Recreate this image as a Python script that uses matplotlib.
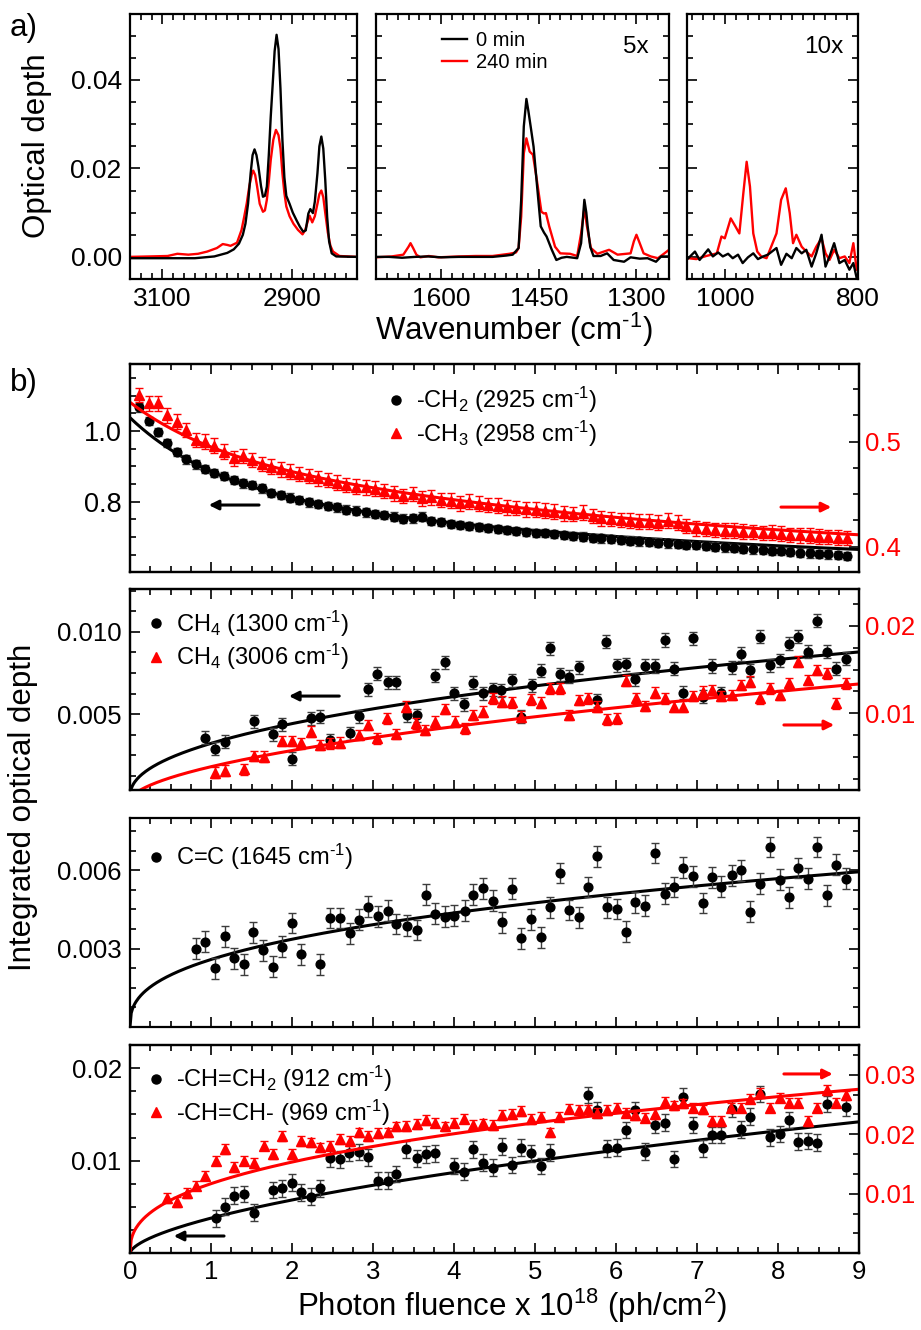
import numpy as np
import matplotlib
matplotlib.use("Agg")
import matplotlib.pyplot as plt
from matplotlib.ticker import FixedLocator, MultipleLocator, AutoMinorLocator, FormatStrFormatter
from matplotlib.lines import Line2D

plt.rcParams['font.family'] = ['Liberation Sans', 'DejaVu Sans']
plt.rcParams['mathtext.fontset'] = 'custom'
plt.rcParams['mathtext.rm'] = 'Liberation Sans'
plt.rcParams['mathtext.it'] = 'Liberation Sans:italic'
plt.rcParams['mathtext.bf'] = 'Liberation Sans:bold'
plt.rcParams['axes.unicode_minus'] = False

RED = '#ff0000'
HY = '\u2010'  # short hyphen used in the superscripts

# ---------------- panel a : spectra ----------------
# C-H stretch region (unscaled)
wn_ch_0 = [3150, 3100, 3050, 3020, 3000, 2990, 2982, 2976, 2972, 2968, 2964, 2961, 2958, 2955, 2952, 2948,
           2945, 2942, 2939, 2936, 2933, 2930, 2927, 2924, 2921, 2918, 2915, 2912, 2909, 2904, 2899, 2893,
           2888, 2883, 2879, 2875, 2872, 2868, 2865, 2861, 2858, 2855, 2852, 2849, 2846, 2843, 2839, 2832, 2800]
od_ch_0 = [-0.0003, -0.0003, -0.0003, 0.0001, 0.0009, 0.0017, 0.0030, 0.0050, 0.0075, 0.0120, 0.0189, 0.0230,
           0.0243, 0.0230, 0.0204, 0.0160, 0.0136, 0.0138, 0.0159, 0.0230, 0.0317, 0.0390, 0.0465, 0.0502,
           0.0470, 0.0380, 0.0264, 0.0180, 0.0138, 0.0120, 0.0100, 0.0082, 0.0068, 0.0057, 0.0060, 0.0098,
           0.0108, 0.0099, 0.0125, 0.0189, 0.0250, 0.0272, 0.0245, 0.0175, 0.0090, 0.0035, 0.0008, 0.0001, 0.0]
wn_ch_240 = [3150, 3120, 3092, 3077, 3060, 3045, 3031, 3016, 3007, 3000, 2995, 2985, 2978, 2974, 2970, 2966,
             2962, 2960, 2957, 2954, 2950, 2945, 2942, 2939, 2936, 2933, 2929, 2925, 2921, 2918, 2915, 2912,
             2909, 2904, 2898, 2891, 2884, 2880, 2876, 2873, 2869, 2865, 2861, 2858, 2855, 2852, 2849, 2845,
             2841, 2837, 2827, 2800]
od_ch_240 = [0.0, 0.0001, 0.0002, 0.0007, 0.0005, 0.0007, 0.0012, 0.0020, 0.0029, 0.0027, 0.0025, 0.0032,
             0.0061, 0.0090, 0.0121, 0.0160, 0.0188, 0.0195, 0.0185, 0.0159, 0.0120, 0.0102, 0.0105, 0.0129,
             0.0170, 0.0219, 0.0265, 0.0287, 0.0275, 0.0245, 0.0189, 0.0145, 0.0114, 0.0092, 0.0075, 0.0061,
             0.0051, 0.0060, 0.0080, 0.0093, 0.0078, 0.0092, 0.0120, 0.0142, 0.0150, 0.0135, 0.0100, 0.0055,
             0.0025, 0.0012, 0.0002, 0.0]

# 1700-1250 cm-1 region (displayed x5)
wn_mid_0 = [1700, 1680, 1660, 1640, 1620, 1600, 1573, 1550, 1521, 1500, 1490, 1481, 1477, 1473, 1469, 1466,
            1462, 1458, 1453, 1447, 1442, 1438, 1430, 1423, 1415, 1407, 1391, 1385, 1382, 1380, 1377, 1375,
            1371, 1366, 1355, 1345, 1335, 1319, 1309, 1295, 1283, 1270, 1262, 1250]
od_mid_0 = [0.0, 0.0, -0.0002, 0.0, 0.0001, -0.0001, 0.0, 0.0, 0.0, 0.0003, 0.0005, 0.0020, 0.0129, 0.0295,
            0.0357, 0.0330, 0.0290, 0.0249, 0.0166, 0.0069, 0.0055, 0.0046, 0.0016, -0.0007, -0.0002, 0.0,
            -0.0003, 0.0031, 0.0090, 0.0129, 0.0100, 0.0070, 0.0023, 0.0002, 0.0002, 0.0008, -0.0007, -0.0011,
            -0.0001, -0.0004, -0.0003, -0.0011, 0.0001, 0.0001]
wn_mid_240 = [1700, 1676, 1658, 1650, 1647, 1643, 1638, 1632, 1619, 1604, 1573, 1547, 1521, 1495, 1485, 1481,
              1477, 1473, 1469, 1464, 1459, 1453, 1446, 1442, 1439, 1434, 1425, 1417, 1402, 1391, 1385, 1380,
              1376, 1370, 1360, 1342, 1329, 1309, 1304, 1300, 1296, 1289, 1278, 1267, 1257, 1250]
od_mid_240 = [-0.0001, 0.0001, 0.0005, 0.0023, 0.0031, 0.0020, 0.0005, -0.0001, 0.0002, -0.0001, 0.0001,
              0.0002, 0.0002, 0.0007, 0.0010, 0.0020, 0.0091, 0.0234, 0.0268, 0.0238, 0.0231, 0.0174, 0.0102,
              0.0098, 0.0099, 0.0069, 0.0023, 0.0008, 0.0007, 0.0002, 0.0053, 0.0110, 0.0069, 0.0020, 0.0007,
              0.0016, 0.0005, 0.0008, 0.0035, 0.0050, 0.0035, 0.0008, 0.0001, -0.0003, 0.0008, 0.0016]

# 1060-800 cm-1 region (displayed x10)
wn_low_0 = [1056, 1046, 1039, 1026, 1019, 1011, 1004, 996, 989, 981, 974, 966, 958, 951, 943, 936, 923, 916,
            908, 900, 893, 885, 878, 870, 863, 855, 849, 843, 836, 828, 820, 813, 807, 802, 800]
od_low_0 = [-0.0003, 0.0012, -0.0007, 0.0017, 0.0001, 0.0010, 0.0001, 0.0007, -0.0003, 0.0005, -0.0014,
            -0.0001, 0.0008, -0.0005, 0.0001, 0.0005, 0.0020, -0.0018, 0.0007, -0.0003, 0.0020, 0.0008, 0.0016,
            -0.0022, 0.0008, 0.0050, -0.0022, 0.0001, 0.0031, -0.0014, -0.0007, -0.0029, -0.0014, -0.0048, -0.0048]
wn_low_240 = [1056, 1044, 1029, 1013, 1006, 1001, 992, 985, 979, 973, 968, 963, 958, 952, 946, 938, 931, 923,
              916, 909, 903, 898, 893, 885, 878, 870, 863, 855, 849, 843, 836, 828, 820, 813, 807, 802]
od_low_240 = [-0.0003, -0.0005, 0.0002, 0.0008, 0.0046, 0.0042, 0.0087, 0.0069, 0.0053, 0.0144, 0.0215,
              0.0159, 0.0053, 0.0012, 0.0001, -0.0003, 0.0023, 0.0053, 0.0129, 0.0155, 0.0099, 0.0031, 0.0050,
              0.0023, 0.0012, 0.0001, 0.0023, 0.0042, 0.0008, -0.0007, 0.0016, -0.0003, 0.0001, -0.0014,
              0.0031, -0.0029]

# ---------------- panel b : integrated optical depth vs fluence ----------------
fluence_b1 = [0.11, 0.23, 0.34, 0.46, 0.58, 0.69, 0.81, 0.93, 1.04, 1.16, 1.28, 1.39, 1.51, 1.63, 1.74, 1.86,
              1.98, 2.09, 2.21, 2.32, 2.44, 2.56, 2.67, 2.79, 2.91, 3.02, 3.14, 3.26, 3.37, 3.49, 3.61, 3.72,
              3.84, 3.96, 4.07, 4.19, 4.31, 4.42, 4.54, 4.66, 4.77, 4.89, 5.01, 5.12, 5.24, 5.36, 5.47, 5.59,
              5.71, 5.82, 5.94, 6.06, 6.17, 6.29, 6.41, 6.52, 6.64, 6.76, 6.87, 6.99, 7.11, 7.22, 7.34, 7.46,
              7.57, 7.69, 7.81, 7.92, 8.04, 8.15, 8.27, 8.39, 8.50, 8.62, 8.74, 8.85]
ch2_2925 = [1.067, 1.029, 0.998, 0.967, 0.941, 0.920, 0.906, 0.893, 0.882, 0.873, 0.861, 0.852, 0.847, 0.838,
            0.825, 0.819, 0.812, 0.805, 0.798, 0.793, 0.788, 0.784, 0.778, 0.775, 0.770, 0.765, 0.762, 0.758,
            0.752, 0.753, 0.758, 0.746, 0.742, 0.737, 0.734, 0.731, 0.729, 0.726, 0.723, 0.720, 0.717, 0.714,
            0.712, 0.711, 0.708, 0.706, 0.703, 0.701, 0.698, 0.696, 0.694, 0.692, 0.690, 0.688, 0.686, 0.684,
            0.682, 0.680, 0.678, 0.677, 0.675, 0.673, 0.671, 0.669, 0.667, 0.665, 0.663, 0.661, 0.660, 0.658,
            0.656, 0.654, 0.652, 0.651, 0.649, 0.646]
ch3_2958 = [0.5445, 0.5366, 0.5366, 0.525, 0.519, 0.511, 0.5016, 0.500, 0.496, 0.4905, 0.484, 0.4864, 0.4826,
            0.4788, 0.4762, 0.4737, 0.4714, 0.4692, 0.4673, 0.4651, 0.4635, 0.461, 0.4588, 0.4571, 0.4565,
            0.455, 0.453, 0.4508, 0.4483, 0.4502, 0.4461, 0.447, 0.4445, 0.4438, 0.4413, 0.4429, 0.4407,
            0.4397, 0.4388, 0.4375, 0.4366, 0.4356, 0.435, 0.4343, 0.4333, 0.4318, 0.4311, 0.4324, 0.4292,
            0.427, 0.4261, 0.4254, 0.4248, 0.4238, 0.4238, 0.4229, 0.4248, 0.4229, 0.4197, 0.4175, 0.4166,
            0.4159, 0.415, 0.4152, 0.4143, 0.4137, 0.4128, 0.4133, 0.4121, 0.4111, 0.4108, 0.4102, 0.4095,
            0.409, 0.4085, 0.408]
ch2_err, ch3_err = 0.012, 0.007

x_ch4_1300 = [0.93, 1.05, 1.17, 1.53, 1.76, 1.88, 2.00, 2.23, 2.35, 2.47, 2.71, 2.83, 2.94, 3.05, 3.18, 3.29,
              3.42, 3.54, 3.76, 3.89, 4.00, 4.12, 4.24, 4.36, 4.48, 4.58, 4.71, 4.83, 4.96, 5.07, 5.19, 5.31,
              5.42, 5.54, 5.77, 5.88, 6.01, 6.12, 6.24, 6.36, 6.48, 6.60, 6.71, 6.83, 6.95, 7.07, 7.19, 7.30,
              7.43, 7.54, 7.66, 7.78, 7.90, 8.02, 8.13, 8.25, 8.37, 8.48, 8.61, 8.72, 8.84]
ch4_1300 = [0.00358, 0.00291, 0.00332, 0.00456, 0.00377, 0.00439, 0.00231, 0.00474, 0.00484, 0.00342, 0.00383,
            0.00488, 0.00650, 0.00747, 0.00694, 0.00694, 0.00494, 0.00494, 0.00733, 0.00814, 0.00626, 0.00561,
            0.00690, 0.00626, 0.00650, 0.00646, 0.00707, 0.00484, 0.00676, 0.00763, 0.00899, 0.00741, 0.00727,
            0.00784, 0.00585, 0.00940, 0.00798, 0.00804, 0.00713, 0.00792, 0.00792, 0.00950, 0.00777, 0.00630,
            0.00960, 0.00605, 0.00792, 0.00626, 0.00784, 0.00865, 0.00767, 0.00970, 0.00798, 0.00828, 0.00929,
            0.00970, 0.00879, 0.01067, 0.00879, 0.00777, 0.00838]
x_ch4_3006 = [1.05, 1.17, 1.41, 1.53, 1.65, 1.88, 2.00, 2.11, 2.24, 2.35, 2.47, 2.59, 2.83, 2.94, 3.05, 3.17,
              3.29, 3.41, 3.53, 3.64, 3.76, 3.89, 4.01, 4.13, 4.24, 4.36, 4.48, 4.59, 4.71, 4.83, 4.95, 5.07,
              5.18, 5.31, 5.42, 5.54, 5.66, 5.77, 5.89, 6.01, 6.12, 6.25, 6.36, 6.48, 6.60, 6.71, 6.83, 6.95,
              7.07, 7.19, 7.30, 7.43, 7.54, 7.66, 7.78, 7.90, 8.02, 8.13, 8.25, 8.37, 8.48, 8.61, 8.72, 8.84]
ch4_3006 = [0.00322, 0.00345, 0.00361, 0.00513, 0.00505, 0.00684, 0.00684, 0.00657, 0.00790, 0.00638, 0.00657,
            0.00665, 0.00752, 0.00867, 0.00714, 0.00943, 0.00764, 0.01076, 0.00886, 0.00809, 0.00905, 0.01049,
            0.00905, 0.00829, 0.00981, 0.01019, 0.01171, 0.01133, 0.01125, 0.00962, 0.01160, 0.01122, 0.01285,
            0.01285, 0.00981, 0.01152, 0.01171, 0.01076, 0.00931, 0.00943, 0.01373, 0.01171, 0.01083, 0.01236,
            0.01171, 0.01076, 0.01076, 0.01198, 0.01247, 0.01266, 0.01198, 0.01209, 0.01323, 0.01361, 0.01171,
            0.01285, 0.01209, 0.01342, 0.01590, 0.01380, 0.01494, 0.01456, 0.01114, 0.01342]
ch4_1300_err, ch4_3006_err = 0.0004, 0.0006

x_cc_1645 = [0.82, 0.93, 1.05, 1.17, 1.28, 1.41, 1.52, 1.64, 1.76, 1.88, 2.00, 2.11, 2.35, 2.47, 2.59, 2.71,
             2.83, 2.94, 3.06, 3.18, 3.29, 3.42, 3.54, 3.65, 3.77, 3.89, 4.00, 4.13, 4.24, 4.36, 4.48, 4.59,
             4.71, 4.83, 4.95, 5.07, 5.19, 5.31, 5.42, 5.54, 5.66, 5.77, 5.89, 6.01, 6.12, 6.24, 6.36, 6.48,
             6.60, 6.71, 6.83, 6.95, 7.07, 7.19, 7.30, 7.43, 7.54, 7.66, 7.78, 7.90, 8.02, 8.13, 8.25, 8.37,
             8.48, 8.61, 8.72, 8.84]
cc_1645 = [0.00300, 0.00326, 0.00224, 0.00347, 0.00263, 0.00240, 0.00362, 0.00294, 0.00231, 0.00307, 0.00398,
           0.00278, 0.00240, 0.00417, 0.00417, 0.00358, 0.00411, 0.00461, 0.00424, 0.00446, 0.00394, 0.00388,
           0.00371, 0.00506, 0.00433, 0.00422, 0.00426, 0.00446, 0.00507, 0.00532, 0.00484, 0.00401, 0.00529,
           0.00340, 0.00413, 0.00343, 0.00459, 0.00590, 0.00448, 0.00420, 0.00536, 0.00654, 0.00459, 0.00452,
           0.00365, 0.00478, 0.00465, 0.00667, 0.00510, 0.00536, 0.00610, 0.00577, 0.00475, 0.00574, 0.00538,
           0.00581, 0.00600, 0.00442, 0.00549, 0.00690, 0.00564, 0.00497, 0.00609, 0.00568, 0.00690, 0.00504,
           0.00622, 0.00568]
cc_1645_err = 0.0004

x_vinyl_912 = [1.06, 1.17, 1.29, 1.41, 1.53, 1.76, 1.88, 2.00, 2.11, 2.23, 2.35, 2.47, 2.59, 2.70, 2.83, 2.94,
               3.06, 3.18, 3.29, 3.41, 3.54, 3.65, 3.77, 4.00, 4.12, 4.24, 4.36, 4.48, 4.59, 4.71, 4.83, 4.95,
               5.07, 5.18, 5.66, 5.77, 5.89, 6.01, 6.12, 6.24, 6.36, 6.48, 6.60, 6.71, 6.83, 6.95, 7.07, 7.19,
               7.30, 7.43, 7.54, 7.66, 7.78, 7.90, 8.02, 8.13, 8.25, 8.37, 8.48, 8.61, 8.84]
vinyl_912 = [0.00376, 0.00503, 0.00622, 0.00640, 0.00438, 0.00683, 0.00701, 0.00762, 0.00658, 0.00611, 0.00701,
             0.01026, 0.01015, 0.01087, 0.01094, 0.01036, 0.00784, 0.00784, 0.00856, 0.01123, 0.01026, 0.01069,
             0.01080, 0.00943, 0.00881, 0.01123, 0.00979, 0.00925, 0.01152, 0.00954, 0.01141, 0.01080, 0.00943,
             0.01087, 0.01711, 0.01549, 0.01134, 0.01141, 0.01332, 0.01549, 0.01098, 0.01386, 0.01412, 0.01018,
             0.01693, 0.01386, 0.01134, 0.01278, 0.01278, 0.01560, 0.01340, 0.01477, 0.01722, 0.01253, 0.01289,
             0.01441, 0.01206, 0.01213, 0.01195, 0.01614, 0.01578]
x_vinylene_969 = [0.46, 0.58, 0.70, 0.82, 0.93, 1.06, 1.17, 1.29, 1.41, 1.53, 1.65, 1.76, 1.88, 2.00, 2.11,
                  2.23, 2.35, 2.47, 2.59, 2.71, 2.83, 2.94, 3.06, 3.18, 3.29, 3.41, 3.54, 3.65, 3.77, 3.89,
                  4.00, 4.12, 4.24, 4.36, 4.48, 4.59, 4.71, 4.83, 4.95, 5.07, 5.18, 5.30, 5.42, 5.54, 5.66,
                  5.77, 5.89, 6.01, 6.12, 6.24, 6.36, 6.48, 6.60, 6.71, 6.83, 6.95, 7.07, 7.19, 7.30, 7.42,
                  7.54, 7.66, 7.78, 7.90, 8.02, 8.13, 8.25, 8.37, 8.48, 8.61, 8.72, 8.84]
vinylene_969 = [0.00928, 0.00861, 0.01017, 0.01139, 0.01306, 0.01557, 0.01752, 0.01446, 0.01557, 0.01518,
                0.01808, 0.01668, 0.01975, 0.01668, 0.01891, 0.01863, 0.01780, 0.01808, 0.01919, 0.01891,
                0.02030, 0.01975, 0.02019, 0.02030, 0.02131, 0.02142, 0.02170, 0.02242, 0.02197, 0.02131,
                0.02197, 0.02264, 0.02153, 0.02181, 0.02153, 0.02320, 0.02337, 0.02392, 0.02253, 0.02298,
                0.02030, 0.02298, 0.02431, 0.02404, 0.02420, 0.02365, 0.02409, 0.02448, 0.02365,
                0.02320, 0.02281, 0.02337, 0.02543, 0.02487, 0.02521, 0.02448, 0.02420, 0.02225,
                0.02225, 0.02448, 0.02448, 0.02598, 0.02699, 0.02448, 0.02615, 0.02532, 0.02532, 0.02225,
                0.02448, 0.02743, 0.02532, 0.02654]
vinyl_912_err, vinylene_969_err = 0.0009, 0.0008

# fitted model parameters
fit_ch2 = (0.600, 0.194, 1.06, 0.244, 6.8)      # A + B1 exp(-x/t1) + B2 exp(-x/t2)
fit_ch3 = (0.383, 0.042, 1.00, 0.1125, 6.5)
fit_ch4_1300 = (0.00323, 0.455)                 # a * x**b
fit_ch4_3006 = (0.0039, 0.56)
fit_cc_1645 = (0.00258, 0.38)
fit_vinyl_912 = (0.0038, 0.60)
fit_vinylene_969 = (0.0117, 0.39)

# ---------------- figure ----------------
W, H = 921, 1330
fig = plt.figure(figsize=(W / 100, H / 100), dpi=100)


def rect(l, r, t, b):
    return [l / W, 1 - b / H, (r - l) / W, (b - t) / H]


def frame(ax, lw=1.6, size=18.5):
    for s in ax.spines.values():
        s.set_linewidth(lw)
    ax.tick_params(which='both', direction='in', width=1.2, labelsize=size, pad=6)
    ax.tick_params(which='major', length=7)
    ax.tick_params(which='minor', length=4)


# panel a
a_axes = [fig.add_axes(rect(130, 357, 14, 279)),
          fig.add_axes(rect(376, 669, 14, 279)),
          fig.add_axes(rect(687, 858, 14, 279))]
spec = [(wn_ch_0, od_ch_0, wn_ch_240, od_ch_240, (3150, 2800), [3100, 2900]),
        (wn_mid_0, od_mid_0, wn_mid_240, od_mid_240, (1700, 1250), [1600, 1450, 1300]),
        (wn_low_0, od_low_0, wn_low_240, od_low_240, (1058, 800), [1000, 800])]
for i, (ax, (w0, o0, w1, o1, xl, xt)) in enumerate(zip(a_axes, spec)):
    ax.plot(w0, o0, color='black', lw=1.7, zorder=3, label='0 min')
    ax.plot(w1, o1, color=RED, lw=1.7, zorder=2, label='240 min')
    ax.set_xlim(*xl)
    ax.set_ylim(-0.005, 0.0549)
    frame(ax, size=19)
    ax.tick_params(which='both', top=True, right=True)
    ax.xaxis.set_major_locator(FixedLocator(xt))
    ax.xaxis.set_major_formatter(FormatStrFormatter('%d'))
    ax.xaxis.set_minor_locator(MultipleLocator(100 / 6))
    ax.yaxis.set_major_locator(FixedLocator([0.0, 0.02, 0.04]))
    ax.yaxis.set_major_formatter(FormatStrFormatter('%.2f'))
    ax.yaxis.set_minor_locator(MultipleLocator(0.005))
    if i > 0:
        ax.tick_params(labelleft=False)

a_axes[1].legend(loc='upper left', bbox_to_anchor=(0.225, 0.935), frameon=False, fontsize=14.5,
                 handlelength=1.25, handletextpad=0.45, borderpad=0, borderaxespad=0, labelspacing=0.15)
a_axes[1].text(0.93, 0.875, '5x', transform=a_axes[1].transAxes, ha='right', va='center', fontsize=17.5)
a_axes[2].text(0.915, 0.875, '10x', transform=a_axes[2].transAxes, ha='right', va='center', fontsize=17.5)

sup_m1 = '$\\mathregular{^{' + HY + '1}}$'
fig.text(10 / W, 1 - 28 / H, 'a)', fontsize=22.5, ha='left', va='center')
fig.text(10 / W, 1 - 383 / H, 'b)', fontsize=22.5, ha='left', va='center')
fig.text(37 / W, 1 - 146 / H, 'Optical depth', fontsize=22.5, rotation=90, ha='center', va='center')
fig.text(514 / W, 1 - 330 / H, 'Wavenumber (cm' + sup_m1 + ')', fontsize=22.5, ha='center', va='center')
fig.text(23 / W, 1 - 807 / H, 'Integrated optical depth', fontsize=22.5, rotation=90, ha='center', va='center')
fig.text(512 / W, 1 - 1306 / H, r'Photon fluence x 10$\mathregular{^{18}}$ (ph/cm$\mathregular{^{2}}$)',
         fontsize=22.5, ha='center', va='center')

# panel b
b_rects = [rect(130, 859, 364, 571.7), rect(130, 859, 589.3, 790),
           rect(130, 859, 818.3, 1026.7), rect(130, 859, 1045, 1253.3)]
b_axes = [fig.add_axes(r) for r in b_rects]
xs = np.linspace(0, 9, 600)


def power(p):
    return p[0] * xs ** p[1]


def biexp(p):
    return p[0] + p[1] * np.exp(-xs / p[2]) + p[3] * np.exp(-xs / p[4])


ebk = dict(fmt='o', color='black', ms=6.3, ecolor='#3c3c3c', elinewidth=1.0, capsize=3.2, capthick=1.0, zorder=3)
ebr = dict(fmt='^', color=RED, ms=7.2, ecolor=RED, elinewidth=1.0, capsize=3.2, capthick=1.0, zorder=3)


def style_b(ax, last):
    frame(ax)
    ax.set_xlim(0, 9)
    ax.xaxis.set_major_locator(MultipleLocator(1))
    ax.xaxis.set_minor_locator(MultipleLocator(0.25))
    ax.xaxis.set_major_formatter(FormatStrFormatter('%d'))
    ax.tick_params(which='both', top=True, labelbottom=last)
    ax.tick_params(axis='x', pad=5)


def style_right(axr, ylim, major, minor_n, fmt):
    axr.set_ylim(*ylim)
    axr.yaxis.set_major_locator(FixedLocator(major))
    axr.yaxis.set_minor_locator(AutoMinorLocator(minor_n))
    axr.yaxis.set_major_formatter(FormatStrFormatter(fmt))
    for s in axr.spines.values():
        s.set_linewidth(1.6)
    axr.tick_params(which='both', direction='in', width=1.2, labelsize=18.5, pad=4, colors='black')
    axr.tick_params(axis='y', which='both', labelcolor=RED)
    axr.tick_params(which='major', length=7)
    axr.tick_params(which='minor', length=4)


def arrow(ax, x0, x1, y, color):
    ax.annotate('', xy=(x1, y), xytext=(x0, y), xycoords='axes fraction',
                arrowprops=dict(arrowstyle='-|>', color=color, lw=2.2, mutation_scale=14, shrinkA=0, shrinkB=0))


def legend(ax, entries, x, y):
    handles = [Line2D([], [], marker=m, color=c, ls='none', ms=ms) for m, c, ms, _ in entries]
    ax.legend(handles, [e[3] for e in entries], loc='upper left', bbox_to_anchor=(x, y), frameon=False,
              fontsize=17, handlelength=0.6, handletextpad=0.55, borderpad=0, borderaxespad=0, labelspacing=0.15)


# b1
ax = b_axes[0]
style_b(ax, False)
ax.errorbar(fluence_b1, ch2_2925, yerr=ch2_err, **ebk)
ax.plot(xs, biexp(fit_ch2), color='black', lw=2.2, zorder=2)
ax.set_ylim(0.602, 1.19)
ax.yaxis.set_major_locator(FixedLocator([0.8, 1.0]))
ax.yaxis.set_minor_locator(MultipleLocator(0.05))
ax.yaxis.set_major_formatter(FormatStrFormatter('%.1f'))
ax.tick_params(axis='y', which='both', right=False, labelsize=19.5)
axr = ax.twinx()
axr.errorbar(fluence_b1, ch3_2958, yerr=ch3_err, **ebr)
axr.plot(xs, biexp(fit_ch3), color=RED, lw=2.2, zorder=2)
style_right(axr, (0.376, 0.574), [0.4, 0.5], 4, '%.1f')
legend(axr, [('o', 'black', 6.5, '-CH$\\mathregular{_2}$ (2925 cm' + sup_m1 + ')'),
             ('^', RED, 7.2, '-CH$\\mathregular{_3}$ (2958 cm' + sup_m1 + ')')], 0.355, 0.9)
arrow(axr, 0.177, 0.108, 0.321, 'black')
arrow(axr, 0.893, 0.962, 0.311, RED)

# b2
ax = b_axes[1]
style_b(ax, False)
ax.errorbar(x_ch4_1300, ch4_1300, yerr=ch4_1300_err, **ebk)
ax.plot(xs, power(fit_ch4_1300), color='black', lw=2.2, zorder=2)
ax.set_ylim(0.0004, 0.01258)
ax.yaxis.set_major_locator(FixedLocator([0.005, 0.010]))
ax.yaxis.set_minor_locator(MultipleLocator(0.00125))
ax.yaxis.set_major_formatter(FormatStrFormatter('%.3f'))
ax.tick_params(axis='y', which='both', right=False)
axr = ax.twinx()
axr.errorbar(x_ch4_3006, ch4_3006, yerr=ch4_3006_err, **ebr)
axr.plot(xs, power(fit_ch4_3006), color=RED, lw=2.2, zorder=2)
style_right(axr, (0.00124, 0.02416), [0.01, 0.02], 4, '%.2f')
legend(axr, [('o', 'black', 6.5, 'CH$\\mathregular{_4}$ (1300 cm' + sup_m1 + ')'),
             ('^', RED, 7.2, 'CH$\\mathregular{_4}$ (3006 cm' + sup_m1 + ')')], 0.026, 0.905)
arrow(axr, 0.287, 0.218, 0.468, 'black')
arrow(axr, 0.897, 0.966, 0.324, RED)

# b3
ax = b_axes[2]
style_b(ax, False)
ax.errorbar(x_cc_1645, cc_1645, yerr=cc_1645_err, **ebk)
ax.plot(xs, power(fit_cc_1645), color='black', lw=2.2, zorder=2)
ax.set_ylim(0.0, 0.008)
ax.yaxis.set_major_locator(FixedLocator([0.003, 0.006]))
ax.yaxis.set_minor_locator(MultipleLocator(0.00075))
ax.yaxis.set_major_formatter(FormatStrFormatter('%.3f'))
ax.tick_params(axis='y', which='both', right=True)
legend(ax, [('o', 'black', 6.5, 'C=C (1645 cm' + sup_m1 + ')')], 0.026, 0.885)

# b4
ax = b_axes[3]
style_b(ax, True)
ax.errorbar(x_vinyl_912, vinyl_912, yerr=vinyl_912_err, **ebk)
ax.plot(xs, power(fit_vinyl_912), color='black', lw=2.2, zorder=2)
ax.set_ylim(0.0, 0.0225)
ax.yaxis.set_major_locator(FixedLocator([0.01, 0.02]))
ax.yaxis.set_minor_locator(MultipleLocator(0.0025))
ax.yaxis.set_major_formatter(FormatStrFormatter('%.2f'))
ax.tick_params(axis='y', which='both', right=False)
axr = ax.twinx()
axr.errorbar(x_vinylene_969, vinylene_969, yerr=vinylene_969_err, **ebr)
axr.plot(xs, power(fit_vinylene_969), color=RED, lw=2.2, zorder=2)
style_right(axr, (0.0, 0.035), [0.01, 0.02, 0.03], 3, '%.2f')
legend(axr, [('o', 'black', 6.5, '-CH=CH$\\mathregular{_2}$ (912 cm' + sup_m1 + ')'),
             ('^', RED, 7.2, '-CH=CH- (969 cm' + sup_m1 + ')')], 0.026, 0.91)
arrow(axr, 0.897, 0.964, 0.861, RED)
arrow(axr, 0.129, 0.060, 0.083, 'black')

fig.savefig('out.png', dpi=100)
